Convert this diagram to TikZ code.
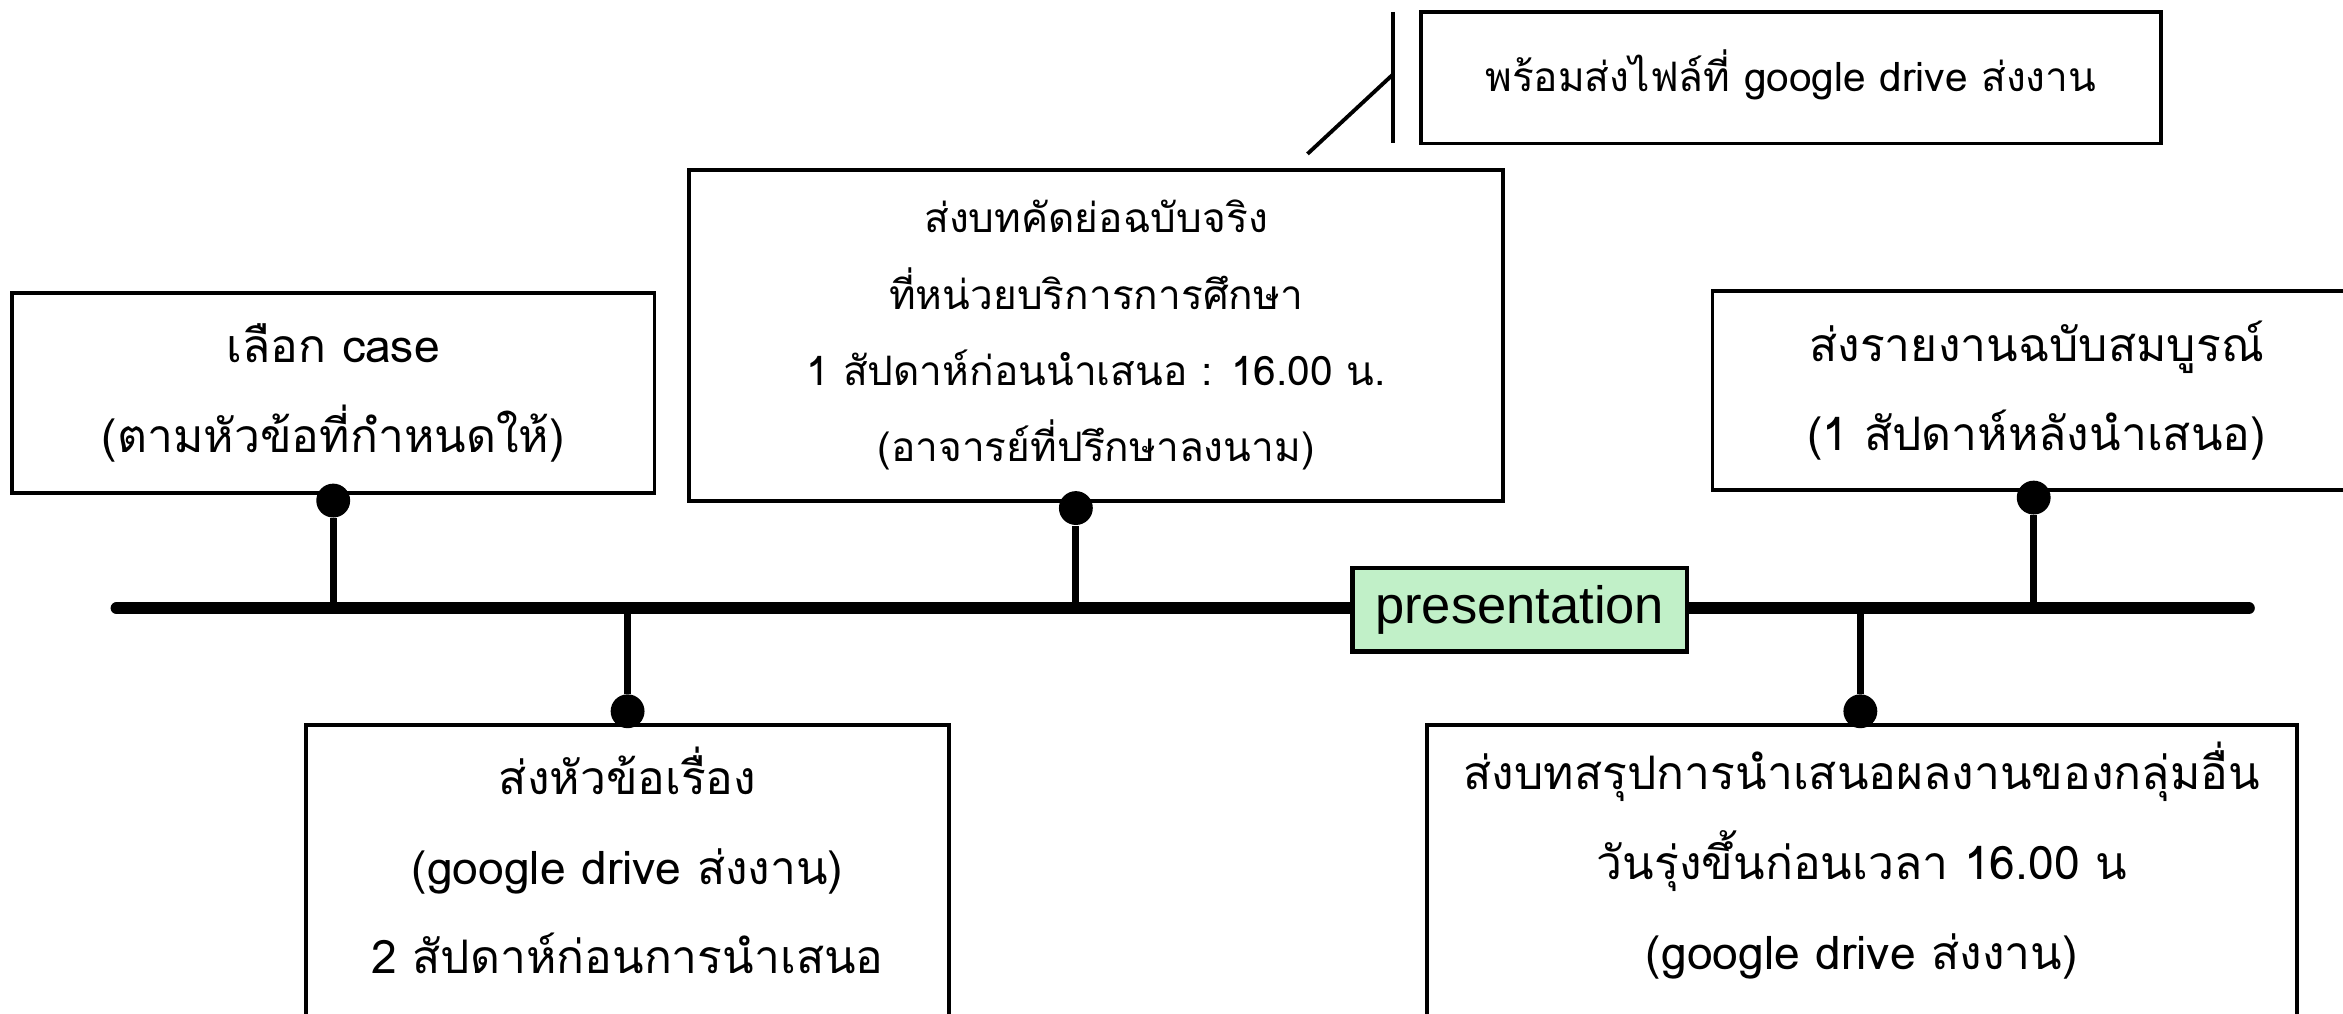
\documentclass[tikz,border=0pt]{standalone}
\usepackage{fontspec}
\newfontfamily\thaifont[Script=Thai]{Loma}
\setsansfont{Liberation Sans}
\usepackage{tikz}
\usetikzlibrary{positioning}
\definecolor{presgreen}{RGB}{193,240,200}

\begin{document}
\begin{tikzpicture}[x=0.015cm, y=-0.015cm,
  box/.style={draw, line width=1.1pt, align=center, inner sep=0pt},
  big/.style={font=\thaifont\fontsize{13.2}{25.6}\selectfont, align=center},
  small/.style={font=\thaifont\fontsize{11.6}{21.8}\selectfont, align=center},
  dot/.style={circle, fill, inner sep=0pt, minimum size=0.34cm},
  stem/.style={line width=2pt}]
  \useasboundingbox (0,0) rectangle (1568,678);
  \clip (0,0) rectangle (1568,678);

  % timeline
  \coordinate (start) at (78,407);
  \coordinate (end) at (1505,407);
  \draw[line width=3.4pt, line cap=round] (start) -- (end);

  % events above
  \node[box, big, minimum width=6.45cm, minimum height=2.01cm] (case) at (223,263) {เลือก case\\(ตามหัวข้อที่กำหนดให้)};
  \node[box, small, minimum width=8.175cm, minimum height=3.315cm] (abstract) at (733.5,224.5) {ส่งบทคัดย่อฉบับจริง\\ที่หน่วยบริการการศึกษา\\1 สัปดาห์ก่อนนำเสนอ : 16.00 น.\\(อาจารย์ที่ปรึกษาลงนาม)};
  \node[box, small, minimum width=7.425cm, minimum height=1.32cm] (ready) at (1198.5,52) {};
  \node[small] (readytext) at (1198.5,50) {พร้อมส่งไฟล์ที่ google drive ส่งงาน};
  \node[box, big, minimum width=6.51cm, minimum height=1.995cm] (report) at (1363,261.5) {ส่งรายงานฉบับสมบูรณ์\\(1 สัปดาห์หลังนำเสนอ)};

  % events below
  \node[box, anchor=north, minimum width=6.45cm, minimum height=3.09cm] (topic) at (420,484) {};
  \node[big] (topictext) at (420,576) {ส่งหัวข้อเรื่อง\\(google drive ส่งงาน)\\2 สัปดาห์ก่อนการนำเสนอ};
  \node[box, anchor=north, minimum width=8.73cm, minimum height=3.09cm] (summary) at (1246,484) {};
  \node[big] (summarytext) at (1246,576) {ส่งบทสรุปการนำเสนอผลงานของกลุ่มอื่น\\วันรุ่งขึ้นก่อนเวลา 16.00 น\\(google drive ส่งงาน)};

  \node[box, line width=1.3pt, fill=presgreen, font=\sffamily\fontsize{15}{18}\selectfont, minimum width=3.36cm, minimum height=0.84cm] (pres) at (1017,408) {presentation};

  % callout
  \coordinate (bartop) at (932,8);
  \coordinate (barbot) at (932,96);
  \coordinate (barmid) at (932,50);
  \coordinate (tail) at (875,103);
  \draw[line width=1.1pt] (bartop) -- (barbot);
  \draw[line width=1.1pt] (barmid) -- (tail);

  % stems
  \coordinate (t1) at (223,407);
  \coordinate (t2) at (420,407);
  \coordinate (t3) at (720,407);
  \coordinate (t4) at (1245,407);
  \coordinate (t5) at (1361,407);
  \node[dot] (d1) at (223,335) {};
  \node[dot] (d2) at (420,476) {};
  \node[dot] (d3) at (720,340) {};
  \node[dot] (d4) at (1245,476) {};
  \node[dot] (d5) at (1361,333) {};
  \draw[stem] (t1) -- (d1);
  \draw[stem] (t2) -- (d2);
  \draw[stem] (t3) -- (d3);
  \draw[stem] (t4) -- (d4);
  \draw[stem] (t5) -- (d5);
\end{tikzpicture}
\end{document}
